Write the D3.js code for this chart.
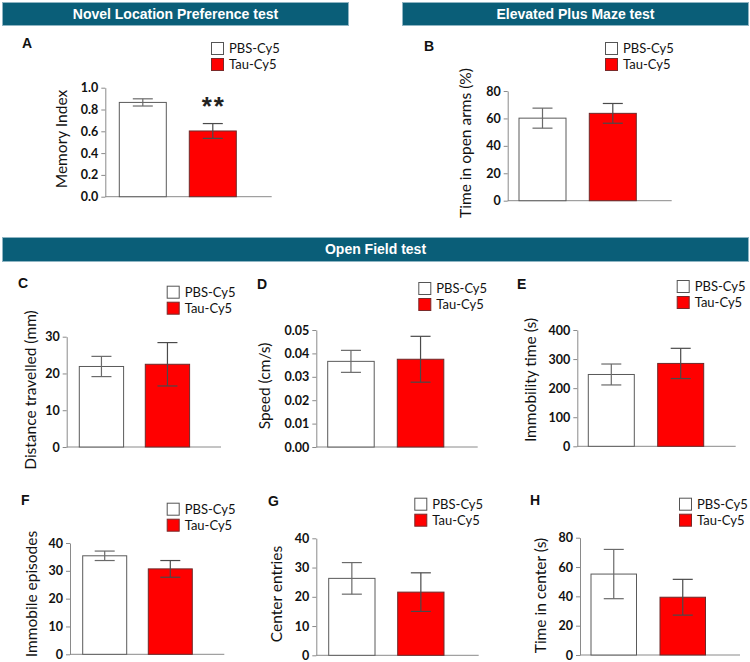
<!DOCTYPE html>
<html><head><meta charset="utf-8">
<script src="https://cdn.jsdelivr.net/npm/d3@7"></script>
<style>
body{margin:0;background:#fff;}
svg{display:block;}
</style></head>
<body>
<svg id="fig" width="750" height="662"></svg>
<script>
// ---------- DATA ----------
const categories = ["PBS-Cy5", "Tau-Cy5"];
const panelLetters = ["A", "B", "C", "D", "E", "F", "G", "H"];
const sectionTitles = ["Novel Location Preference test", "Elevated Plus Maze test", "Open Field test"];
const yTitles = ["Memory Index", "Time in open arms (%)", "Distance travelled (mm)", "Speed (cm/s)",
                 "Immobility time (s)", "Immobile episodes", "Center entries", "Time in center (s)"];

const memoryIndex      = [0.865, 0.603];  const memoryIndexSem      = [0.033, 0.068];
const openArmsTime     = [60.2, 63.7];    const openArmsTimeSem     = [7.3, 7.2];
const distance         = [21.9, 22.5];    const distanceSem         = [2.75, 5.9];
const speed            = [0.0366, 0.0375];const speedSem            = [0.0047, 0.0098];
const immobilityTime   = [247, 285];      const immobilityTimeSem   = [36, 52];
const immobileEpisodes = [35.4, 30.7];    const immobileEpisodesSem = [1.7, 3.0];
const centerEntries    = [26.3, 21.6];    const centerEntriesSem    = [5.4, 6.6];
const centerTime       = [55.2, 39.4];    const centerTimeSem       = [16.8, 12.2];

const ticksA = [0, 0.2, 0.4, 0.6, 0.8, 1.0];
const ticksB = [0, 20, 40, 60, 80];
const ticksC = [0, 10, 20, 30];
const ticksD = [0, 0.01, 0.02, 0.03, 0.04, 0.05];
const ticksE = [0, 100, 200, 300, 400];
const ticksF = [0, 10, 20, 30, 40];
const ticksG = [0, 10, 20, 30, 40];
const ticksH = [0, 20, 40, 60, 80];
const tickFormats = [".1f", "d", "d", ".2f", "d", "d", "d", "d"];
const significance = ["", "**"]; // panel A only

const panelMeans = [memoryIndex, openArmsTime, distance, speed, immobilityTime, immobileEpisodes, centerEntries, centerTime];
const panelSems  = [memoryIndexSem, openArmsTimeSem, distanceSem, speedSem, immobilityTimeSem, immobileEpisodesSem, centerEntriesSem, centerTimeSem];
const panelTicks = [ticksA, ticksB, ticksC, ticksD, ticksE, ticksF, ticksG, ticksH];

// ---------- LAYOUT (positions only) ----------
const layout = [
  {ax:105.3, top:87.7,  bot:196.7, xEnd:271.7, b1:119.3, b2:189.3, bw:47,   lx:211,   ly:42,    kx:22,  ky:48,    tx:61,  ty:139},
  {ax:507.7, top:91,    bot:200.7, xEnd:671.7, b1:519,   b2:589.3, bw:47,   lx:605,   ly:42,    kx:424, ky:51,    tx:465, ty:143},
  {ax:66.7,  top:336.7, bot:447,   xEnd:221,   b1:79.3,  b2:145.3, bw:44.3, lx:166.7, ly:285.7, kx:18,  ky:288,   tx:30,  ty:390},
  {ax:316.3, top:330,   bot:447,   xEnd:477.7, b1:327.7, b2:397.3, bw:46.5, lx:418.3, ly:282,   kx:257, ky:289,   tx:264, ty:386},
  {ax:577.3, top:330,   bot:446.3, xEnd:735.7, b1:588.3, b2:657.7, bw:46,   lx:676.7, ly:280,   kx:517, ky:289,   tx:530, ty:380},
  {ax:70,    top:543,   bot:654.3, xEnd:224.3, b1:82.7,  b2:148.3, bw:44,   lx:166.7, ly:502.7, kx:21,  ky:505,   tx:31,  ty:594},
  {ax:316.3, top:538.3, bot:655.3, xEnd:478.7, b1:328.7, b2:397.7, bw:46.3, lx:414.3, ly:497.7, kx:268, ky:505.5, tx:276, ty:594},
  {ax:580,   top:537.7, bot:655,   xEnd:740,   b1:591,   b2:660,   bw:45.5, lx:679,   ly:497.7, kx:530, ky:505,   tx:540, ty:595.5}
];
const headers = [
  {x:2, y:2, w:346, h:23, by:18.5},
  {x:402, y:2, w:346, h:23, by:18.5},
  {x:2, y:237, w:746, h:24, by:254}
];
const fills = ["#ffffff", "#ff0000"];
const strokes = ["#5a5a5a", "#6e2a2a"];

const svg = d3.select("#fig");

// headers
headers.forEach((h, i) => {
  svg.append("rect").attr("x", h.x + 0.5).attr("y", h.y + 0.5).attr("width", h.w).attr("height", h.h)
    .attr("fill", "#0a5e78").attr("stroke", "#8fb5c3").attr("stroke-width", 1);
  svg.append("text").attr("x", h.x + h.w / 2 + 0.5).attr("y", h.by)
    .attr("text-anchor", "middle").attr("fill", "#ffffff")
    .attr("font-family", "Liberation Sans, Arial, sans-serif").attr("font-weight", "bold").attr("font-size", 14)
    .text(sectionTitles[i]);
});

layout.forEach((L, p) => {
  const g = svg.append("g");
  const ticks = panelTicks[p];
  const y = d3.scaleLinear().domain([0, ticks[ticks.length - 1]]).range([L.bot, L.top]);
  const x = d3.scaleBand().domain(categories).range([L.b1, L.b2 + L.bw])
    .paddingInner(1 - L.bw / (L.b2 - L.b1)).paddingOuter(0);

  // y axis
  const yAxis = d3.axisLeft(y).tickValues(ticks).tickFormat(d3.format(tickFormats[p])).tickSize(4).tickPadding(3).tickSizeOuter(0);
  const ya = g.append("g").attr("transform", `translate(${L.ax},0)`).call(yAxis);
  ya.select(".domain").attr("stroke", "#8a8a8a");
  ya.selectAll(".tick line").attr("stroke", "#8a8a8a");
  ya.selectAll(".tick text").attr("fill", "#111").attr("font-family", "Lato, sans-serif")
    .attr("font-weight", "bold").attr("font-size", 12.5);

  // x axis baseline
  g.append("line").attr("x1", L.ax).attr("x2", L.xEnd).attr("y1", y(0)).attr("y2", y(0))
    .attr("stroke", "#8a8a8a").attr("stroke-width", 1);

  const means = panelMeans[p], sems = panelSems[p];
  // bars
  g.selectAll("rect.bar").data(categories).enter().append("rect").attr("class", "bar")
    .attr("x", d => x(d)).attr("width", x.bandwidth())
    .attr("y", (d, i) => y(means[i])).attr("height", (d, i) => y(0) - y(means[i]))
    .attr("fill", (d, i) => fills[i]).attr("stroke", (d, i) => strokes[i]).attr("stroke-width", 1);

  // error bars
  const cap = 10;
  categories.forEach((c, i) => {
    const cx = x(c) + x.bandwidth() / 2;
    const hi = y(means[i] + sems[i]), lo = y(means[i] - sems[i]);
    const col = i === 0 ? "#6a6a6a" : "#4a4a4a";
    g.append("line").attr("x1", cx).attr("x2", cx).attr("y1", hi).attr("y2", lo).attr("stroke", col).attr("stroke-width", 1.2);
    [hi, lo].forEach(v => g.append("line").attr("x1", cx - cap).attr("x2", cx + cap).attr("y1", v).attr("y2", v)
      .attr("stroke", col).attr("stroke-width", 1.2));
  });

  // significance (panel A)
  if (p === 0) {
    categories.forEach((c, i) => {
      if (!significance[i]) return;
      const cx = x(c) + x.bandwidth() / 2;
      g.append("text").attr("x", cx + 1).attr("y", y(means[i] + sems[i]) - 8.5)
        .attr("text-anchor", "middle").attr("font-family", "Liberation Sans, Arial, sans-serif")
        .attr("font-weight", "bold").attr("font-size", 26).attr("letter-spacing", 2).attr("fill", "#222")
        .text(significance[i]);
    });
  }

  // y title
  g.append("text").attr("transform", `translate(${L.tx},${L.ty}) rotate(-90)`)
    .attr("text-anchor", "middle").attr("dominant-baseline", "central")
    .attr("font-family", "Lato, sans-serif").attr("font-size", 15.5).attr("fill", "#111")
    .text(yTitles[p]);

  // panel letter
  g.append("text").attr("x", L.kx).attr("y", L.ky)
    .attr("font-family", "Liberation Sans, Arial, sans-serif").attr("font-weight", "bold").attr("font-size", 14).attr("fill", "#111")
    .text(panelLetters[p]);

  // legend
  categories.forEach((c, i) => {
    g.append("rect").attr("x", L.lx + 0.5).attr("y", L.ly + i * 16 + 0.5).attr("width", 12).attr("height", 12)
      .attr("fill", fills[i]).attr("stroke", i === 0 ? "#555" : "#7a2a2a").attr("stroke-width", 1);
    g.append("text").attr("x", L.lx + 18).attr("y", L.ly + i * 16 + 11)
      .attr("font-family", "Lato, sans-serif").attr("font-size", 13).attr("fill", "#111").text(c);
  });
});
</script>
</body></html>
